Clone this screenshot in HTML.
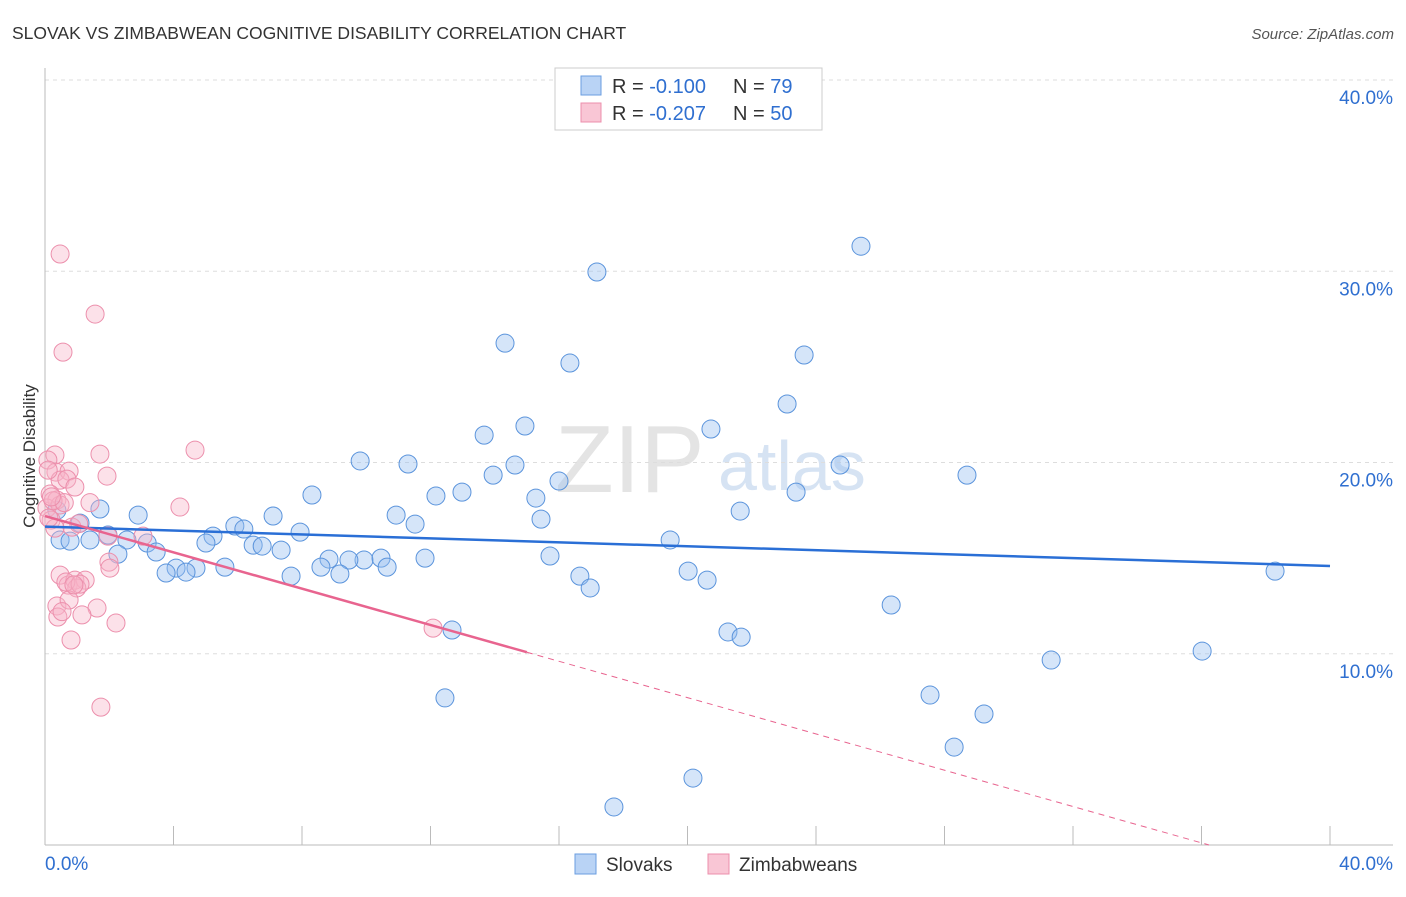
<!DOCTYPE html>
<html><head><meta charset="utf-8">
<style>
body{margin:0;background:#fff;font-family:"Liberation Sans",sans-serif;}
#wrap{position:relative;width:1406px;height:892px;}
svg text{font-family:"Liberation Sans",sans-serif;}
</style></head><body>
<div id="wrap">
<svg id="chart" width="1406" height="892">
<text x="12" y="39" font-size="17.5" fill="#333">SLOVAK VS ZIMBABWEAN COGNITIVE DISABILITY CORRELATION CHART</text>
<text x="1394" y="39" font-size="15" fill="#555" text-anchor="end" font-style="italic">Source: ZipAtlas.com</text>
<text x="35" y="456" font-size="17" fill="#333" text-anchor="middle" transform="rotate(-90 35 456)">Cognitive Disability</text>
<text x="555" y="492" font-size="96" fill="#e4e4e4" font-family="Liberation Serif">ZIP</text>
<text x="718" y="490" font-size="70" fill="#d6e3f3">atlas</text>
<g id="grid"></g><g id="axes"></g><g id="pts"></g><g id="lines"></g>
<g>
<rect x="555" y="68" width="267" height="62" fill="#fff" stroke="#ccc"/>
<rect x="581" y="76" width="20" height="19" fill="#b9d3f5" stroke="#6a9ee0"/>
<rect x="581" y="103" width="20" height="19" fill="#f9c6d5" stroke="#ec8fac"/>
<text x="612" y="93" font-size="20" fill="#333">R = <tspan fill="#2f6fd0">-0.100</tspan></text>
<text x="733" y="93" font-size="20" fill="#333">N = <tspan fill="#2f6fd0">79</tspan></text>
<text x="612" y="120" font-size="20" fill="#333">R = <tspan fill="#2f6fd0">-0.207</tspan></text>
<text x="733" y="120" font-size="20" fill="#333">N = <tspan fill="#2f6fd0">50</tspan></text>
</g>
<g>
<rect x="575" y="854" width="21" height="20" fill="#b9d3f5" stroke="#6a9ee0"/>
<text x="606" y="871" font-size="19" fill="#333">Slovaks</text>
<rect x="708" y="854" width="21" height="20" fill="#f9c6d5" stroke="#ec8fac"/>
<text x="739" y="871" font-size="19" fill="#333">Zimbabweans</text>
</g>
</svg>
</div>
<script>
const blueX=[17.18,25.40,14.32,16.34,23.63,23.10,14.94,13.67,20.73,9.81,11.30,14.63,24.75,28.70,13.95,16.00,12.98,12.17,8.31,15.28,23.38,21.64,1.71,2.90,7.10,10.93,15.44,11.52,1.09,5.91,6.19,7.94,5.23,1.96,0.47,0.78,1.40,2.55,3.18,5.01,6.48,6.76,7.35,19.46,2.27,3.46,8.84,9.93,10.46,9.46,11.83,15.72,8.59,10.65,4.08,4.70,5.60,3.77,4.39,9.18,7.66,20.02,16.65,20.61,16.97,38.29,26.34,12.67,21.26,21.67,36.02,31.32,27.55,12.45,29.23,28.30,20.17,17.71,0.37];
const blueY=[29.96,31.31,26.24,25.20,25.62,23.06,21.91,21.43,21.75,20.08,19.92,19.87,19.87,19.34,19.34,19.03,18.45,18.25,18.30,18.14,18.45,17.46,17.57,17.25,17.20,17.25,17.04,16.78,16.83,16.68,16.52,16.36,16.15,16.21,15.95,15.89,15.95,15.95,15.79,15.79,15.68,15.63,15.42,15.95,15.21,15.32,14.95,14.90,15.00,14.90,15.00,15.11,14.53,14.53,14.48,14.48,14.53,14.22,14.27,14.17,14.06,14.32,14.06,13.85,13.44,14.32,12.55,11.24,11.14,10.87,10.14,9.67,7.84,7.69,6.85,5.12,3.50,1.99,17.5];
const pinkX=[0.47,1.56,0.56,4.67,1.71,0.31,0.09,0.34,0.75,0.47,0.68,0.93,1.93,0.16,0.37,0.06,0.47,4.20,0.19,0.84,0.31,1.96,3.05,1.99,2.02,0.47,0.72,0.93,1.25,0.99,0.65,1.09,0.37,0.75,1.62,0.40,1.15,2.21,0.81,1.74,12.08,0.53,0.12,1.40,0.90,0.25,0.60,0.20,1.05,0.10];
const pinkY=[30.90,27.76,25.77,20.65,20.44,20.39,20.13,19.50,19.55,19.08,19.13,18.72,19.29,18.35,18.04,17.62,17.78,17.67,16.99,16.62,16.57,16.15,16.15,14.79,14.48,14.11,13.59,13.85,13.85,13.44,13.75,13.64,12.50,12.81,12.39,11.92,12.03,11.61,10.72,7.21,11.34,12.2,17.1,17.9,13.6,18.0,17.9,18.2,16.8,19.6];
const blueLine=[16.65,14.59];
const pinkLine=[17.2,10.08,15.0];
const yTicks=[10,20,30,40];
const ns="http://www.w3.org/2000/svg";
const X0=45,X1=1330,Y0=845,Y40=80;
const sx=v=>X0+v/40*(X1-X0);
const sy=v=>Y0-v/40*(Y0-Y40);
function mk(tag,attrs,parent){const e=document.createElementNS(ns,tag);for(const k in attrs)e.setAttribute(k,attrs[k]);document.getElementById(parent).appendChild(e);return e;}
yTicks.forEach(t=>{
 const g=mk('line',{x1:X0,x2:1393,y1:sy(t),y2:sy(t),stroke:'#ddd','stroke-dasharray':'4,4'},'grid');
 
 
 const l=mk('text',{x:1393,y:sy(t)+24,'font-size':19,fill:'#2f6fd0','text-anchor':'end'},'grid');
 l.textContent=t.toFixed(1)+'%';
 
 
});
const ax=mk('line',{x1:X0,x2:X0,y1:68,y2:Y0,stroke:'#bbb'},'axes');


const bx=mk('line',{x1:X0,x2:1393,y1:Y0,y2:Y0,stroke:'#bbb'},'axes');


for(let i=1;i<=10;i++){const t=mk('line',{x1:sx(i*4),x2:sx(i*4),y1:826,y2:Y0,stroke:'#bbb'},'axes');
 
 }
[[0,'start',X0],[40,'end',1393]].forEach(([v,a,x])=>{const t=mk('text',{x:x,y:870,'font-size':19,fill:'#2f6fd0','text-anchor':a},'axes');t.textContent=v.toFixed(1)+'%';
 
 });
blueX.forEach((v,i)=>{const c=mk('circle',{cx:sx(v),cy:sy(blueY[i]),r:9,fill:'rgba(150,190,240,0.4)',stroke:'#5b94dc','stroke-width':1},'pts');
 
 });
pinkX.forEach((v,i)=>{const c=mk('circle',{cx:sx(v),cy:sy(pinkY[i]),r:9,fill:'rgba(248,180,200,0.4)',stroke:'#ec8fac','stroke-width':1},'pts');
 
 });
const bl=mk('line',{x1:sx(0),y1:sy(blueLine[0]),x2:sx(40),y2:sy(blueLine[1]),stroke:'#2a6fd6','stroke-width':2.5},'lines');


const slope=(pinkLine[1]-pinkLine[0])/pinkLine[2];
const xz=-pinkLine[0]/slope;
const pl=mk('line',{x1:sx(0),y1:sy(pinkLine[0]),x2:sx(pinkLine[2]),y2:sy(pinkLine[1]),stroke:'#e8648f','stroke-width':2.5},'lines');


const pd=mk('line',{x1:sx(pinkLine[2]),y1:sy(pinkLine[1]),x2:sx(xz),y2:sy(0),stroke:'#e8648f','stroke-width':1,'stroke-dasharray':'6,5'},'lines');


</script>
</body></html>
